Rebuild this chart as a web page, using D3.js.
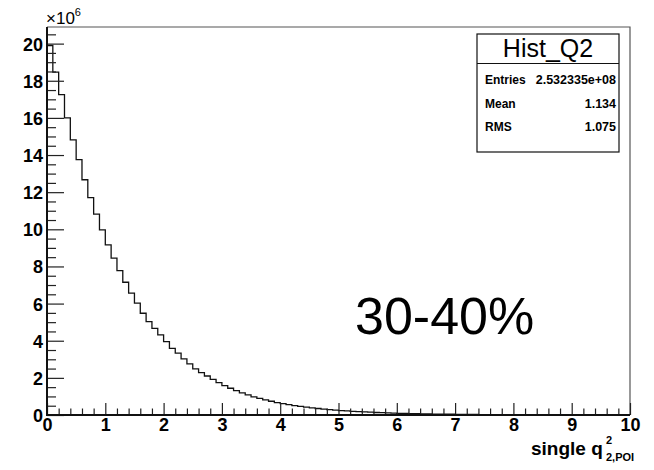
<!DOCTYPE html>
<html>
<head>
<meta charset="utf-8">
<script src="https://cdn.jsdelivr.net/npm/d3@7"></script>
<style>
  html, body { margin: 0; padding: 0; background: #fff; }
  svg { display: block; font-family: "Liberation Sans", Arial, Helvetica, sans-serif; }
  .tick-label { font-weight: bold; font-size: 18px; fill: #000; }
  .stat-key { font-weight: bold; font-size: 12px; fill: #000; }
  .stat-val { font-weight: bold; font-size: 12.5px; fill: #000; }
</style>
</head>
<body>
<div id="chart"></div>
<script>
// bin contents of Hist_Q2, in units of 10^6, 100 bins from 0 to 10
const BIN_LOW = 0;
const BIN_HIGH = 10;
const BIN_VALUES = [
  19.9, 18.47, 17.25, 16.0, 14.82, 13.75, 12.67, 11.71, 10.82, 9.97,
  9.16, 8.45, 7.78, 7.15, 6.56, 6.02, 5.48, 5.03, 4.67, 4.31,
  3.95, 3.59, 3.33, 3.02, 2.75, 2.48, 2.28, 2.10, 1.92, 1.74,
  1.58, 1.44, 1.31, 1.19, 1.08, 0.98, 0.89, 0.81, 0.74, 0.67,
  0.61, 0.56, 0.51, 0.46, 0.42, 0.38, 0.35, 0.32, 0.29, 0.26,
  0.24, 0.22, 0.20, 0.18, 0.165, 0.15, 0.135, 0.123, 0.112, 0.10,
  0.092, 0.084, 0.076, 0.07, 0.063, 0.058, 0.052, 0.048, 0.043, 0.04,
  0.036, 0.033, 0.030, 0.027, 0.025, 0.022, 0.02, 0.018, 0.017, 0.015,
  0.014, 0.012, 0.011, 0.01, 0.009, 0.008, 0.0075, 0.007, 0.006, 0.0055,
  0.005, 0.0045, 0.004, 0.0037, 0.0033, 0.003, 0.0027, 0.0025, 0.0022, 0.002
];

const X_MAJOR = [0, 1, 2, 3, 4, 5, 6, 7, 8, 9, 10];
const Y_MAJOR = [0, 2, 4, 6, 8, 10, 12, 14, 16, 18, 20];

const STATS = [
  { key: "Entries", value: "2.532335e+08" },
  { key: "Mean", value: "1.134" },
  { key: "RMS", value: "1.075" }
];

const HIST_NAME = "Hist_Q2";
const CENTRALITY = "30-40%";

renderChart();

function renderChart() {
  const width = 654;
  const height = 470;
  const margin = { top: 27, right: 24, bottom: 55, left: 47 };

  const svg = d3.select("#chart")
    .append("svg")
    .attr("width", width)
    .attr("height", height);

  const yMax = d3.max(BIN_VALUES) * 1.05;

  const x = d3.scaleLinear()
    .domain([BIN_LOW, BIN_HIGH])
    .range([margin.left, width - margin.right]);

  const y = d3.scaleLinear()
    .domain([0, yMax])
    .range([height - margin.bottom, margin.top]);

  const x0 = x.range()[0], x1 = x.range()[1];
  const y0 = y.range()[0], y1 = y.range()[1];

  // frame (top/right)
  svg.append("path")
    .attr("d", `M${x0},${y1}H${x1}V${y0}`)
    .attr("fill", "none")
    .attr("stroke", "#555")
    .attr("stroke-width", 1.2);

  // histogram outline
  const binWidth = (BIN_HIGH - BIN_LOW) / BIN_VALUES.length;
  const pts = [[BIN_LOW, 0]]
    .concat(BIN_VALUES.map((v, i) => [BIN_LOW + i * binWidth, v]))
    .concat([[BIN_HIGH, BIN_VALUES[BIN_VALUES.length - 1]], [BIN_HIGH, 0]]);

  const line = d3.line()
    .x(d => x(d[0]))
    .y(d => y(d[1]))
    .curve(d3.curveStepAfter);

  svg.append("path")
    .datum(pts)
    .attr("d", line)
    .attr("fill", "none")
    .attr("stroke", "#111")
    .attr("stroke-width", 1.3);

  // minor ticks
  const xMinor = d3.range(0, 51).map(i => i * 0.2).filter(v => !X_MAJOR.includes(Math.round(v * 10) / 10));
  const yMinor = d3.range(0, 42).map(i => i * 0.5).filter(v => v <= yMax && v % 2 !== 0);

  svg.append("g")
    .attr("transform", `translate(0,${y0})`)
    .call(d3.axisBottom(x).tickValues(xMinor).tickSize(-6.5).tickFormat(""))
    .call(g => g.select(".domain").remove())
    .selectAll("line").attr("stroke", "#222").attr("stroke-width", 1.2);

  svg.append("g")
    .attr("transform", `translate(${x0},0)`)
    .call(d3.axisLeft(y).tickValues(yMinor).tickSize(-9).tickFormat(""))
    .call(g => g.select(".domain").remove())
    .selectAll("line").attr("stroke", "#222").attr("stroke-width", 1.2);

  // major ticks + labels
  const xAxis = svg.append("g")
    .attr("transform", `translate(0,${y0})`)
    .call(d3.axisBottom(x).tickValues(X_MAJOR).tickSize(-12).tickPadding(3).tickFormat(d3.format("d")));
  xAxis.select(".domain").remove();
  xAxis.selectAll("line").attr("stroke", "#222").attr("stroke-width", 1.2);
  xAxis.selectAll("text").attr("class", "tick-label");

  const yAxis = svg.append("g")
    .attr("transform", `translate(${x0},0)`)
    .call(d3.axisLeft(y).tickValues(Y_MAJOR).tickSize(-17).tickPadding(4).tickFormat(d3.format("d")));
  yAxis.select(".domain").remove();
  yAxis.selectAll("line").attr("stroke", "#222").attr("stroke-width", 1.2);
  yAxis.selectAll("text").attr("class", "tick-label").attr("dy", "0.36em");

  // axis lines
  svg.append("path")
    .attr("d", `M${x0},${y1}V${y0}H${x1}`)
    .attr("fill", "none")
    .attr("stroke", "#111")
    .attr("stroke-width", 2);

  // exponent label
  const expo = svg.append("text")
    .attr("x", 46)
    .attr("y", 24)
    .attr("font-size", 17)
    .text("\u00d710");
  expo.append("tspan")
    .attr("font-size", 11)
    .attr("dy", -8)
    .text("6");

  // x axis title
  svg.append("text")
    .attr("x", 531)
    .attr("y", 455)
    .attr("font-weight", "bold")
    .attr("font-size", 19)
    .text("single q");
  svg.append("text")
    .attr("x", 606)
    .attr("y", 444)
    .attr("font-weight", "bold")
    .attr("font-size", 11)
    .text("2");
  svg.append("text")
    .attr("x", 606)
    .attr("y", 461)
    .attr("font-weight", "bold")
    .attr("font-size", 11)
    .text("2,POI");

  // centrality label
  svg.append("text")
    .attr("x", 355)
    .attr("y", 334)
    .attr("font-size", 52)
    .text(CENTRALITY);

  // stats box
  const box = { x: 477, y: 34, w: 142, h: 118 };
  const stats = svg.append("g");
  stats.append("rect")
    .attr("x", box.x)
    .attr("y", box.y)
    .attr("width", box.w)
    .attr("height", box.h)
    .attr("fill", "#fff")
    .attr("stroke", "#111")
    .attr("stroke-width", 1.2);
  stats.append("line")
    .attr("x1", box.x)
    .attr("x2", box.x + box.w)
    .attr("y1", 63.5)
    .attr("y2", 63.5)
    .attr("stroke", "#111")
    .attr("stroke-width", 1.2);
  stats.append("text")
    .attr("x", box.x + box.w / 2)
    .attr("y", 57)
    .attr("text-anchor", "middle")
    .attr("font-size", 25)
    .text(HIST_NAME);

  const rowY = d3.scalePoint()
    .domain(STATS.map(d => d.key))
    .range([84, 131]);

  stats.selectAll(".stat-key")
    .data(STATS)
    .enter()
    .append("text")
    .attr("class", "stat-key")
    .attr("x", 485)
    .attr("y", d => rowY(d.key))
    .text(d => d.key);

  stats.selectAll(".stat-val")
    .data(STATS)
    .enter()
    .append("text")
    .attr("class", "stat-val")
    .attr("x", 616)
    .attr("y", d => rowY(d.key))
    .attr("text-anchor", "end")
    .text(d => d.value);
}
</script>
</body>
</html>
